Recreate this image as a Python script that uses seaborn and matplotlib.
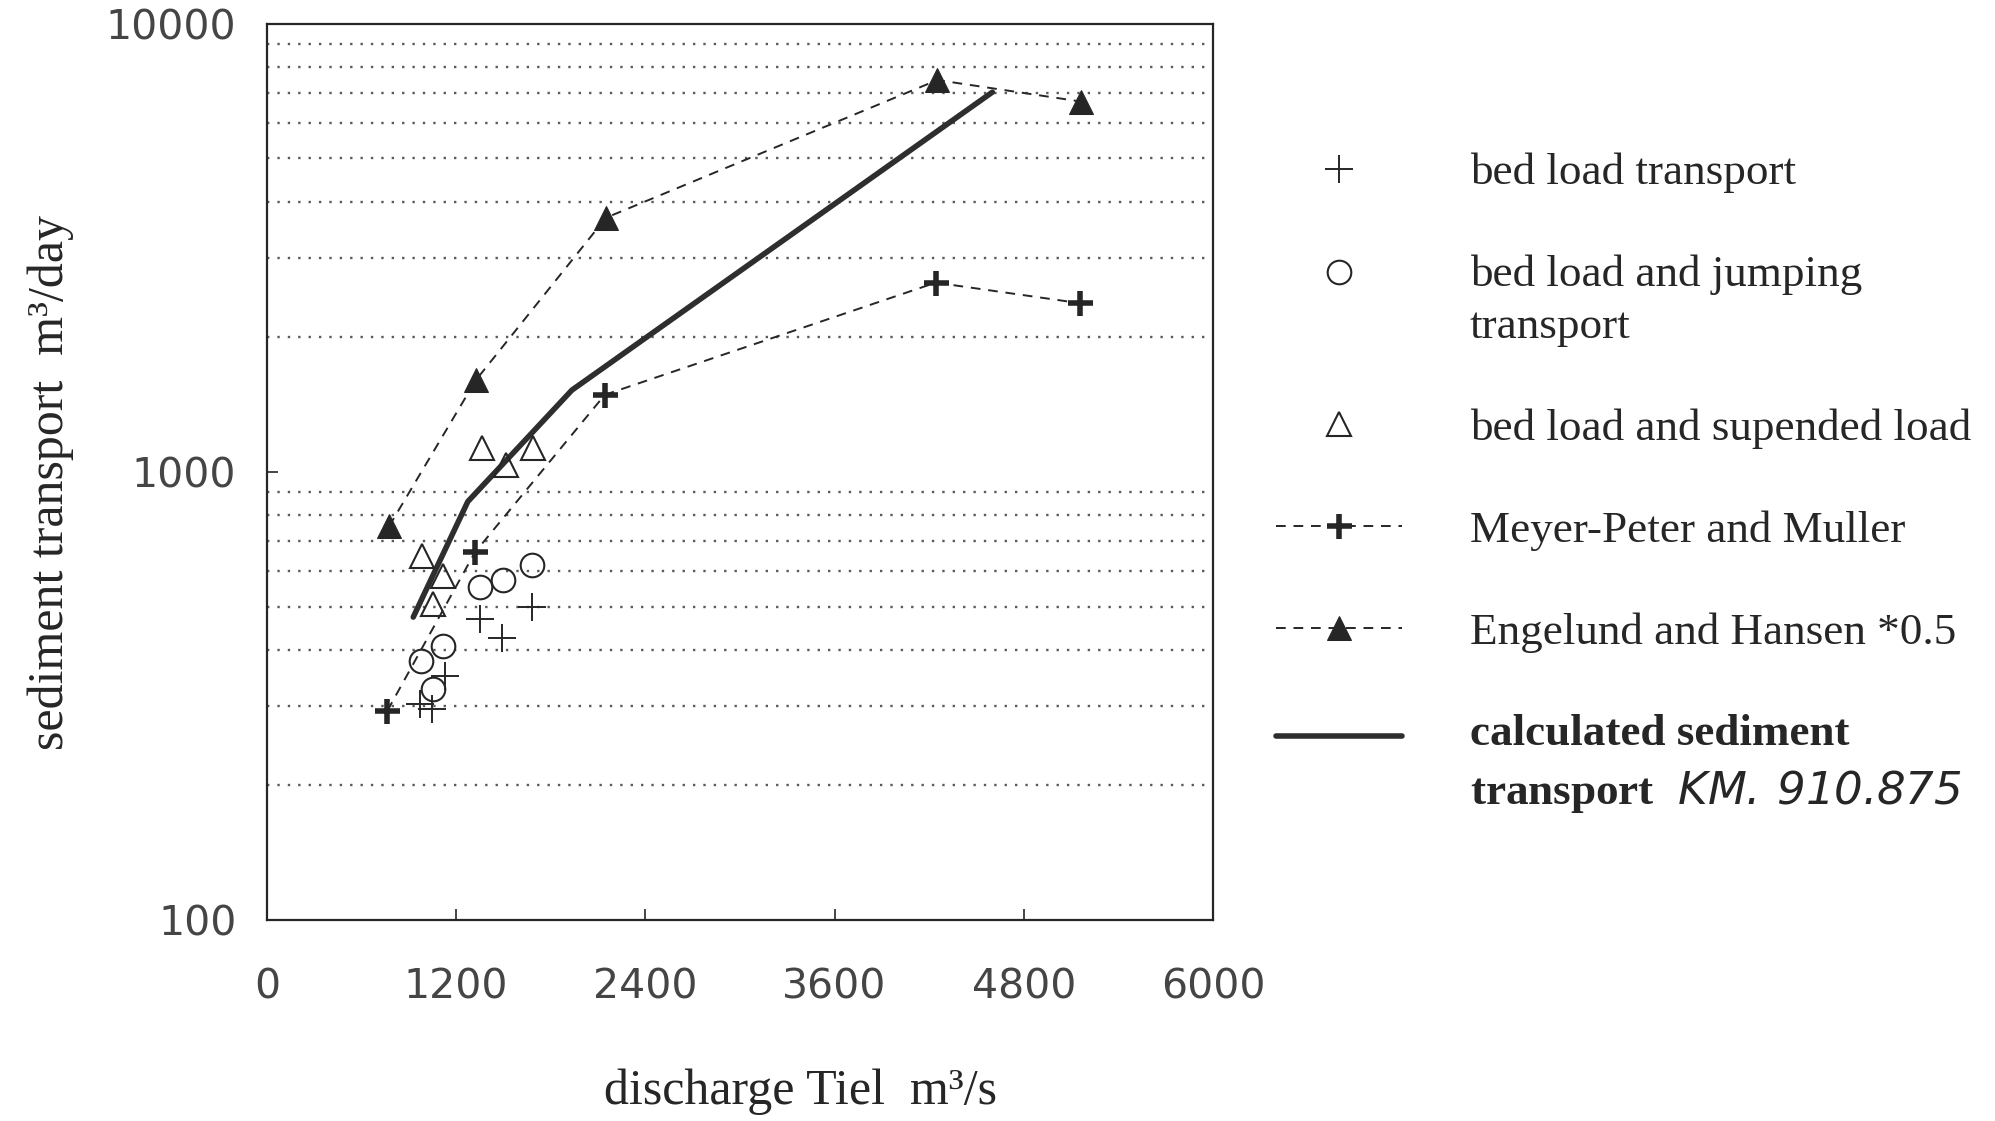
import numpy as np
import pandas as pd
import matplotlib
matplotlib.use("Agg")
import matplotlib.pyplot as plt
import seaborn as sns
from matplotlib.ticker import FixedLocator, FixedFormatter, LogLocator, NullFormatter

# Measured transport (discharge m3/s, transport m3/day)
bed_x = [1678, 1351, 1492, 1129, 970, 1048]
bed_y = [499, 469, 425, 350, 304, 295]

jump_x = [1682, 1498, 1351, 1118, 975, 1051]
jump_y = [621, 574, 554, 408, 378, 328]

susp_x = [1361, 1685, 1516, 981, 1118, 1055]
susp_y = [1128, 1128, 1038, 648, 585, 506]

# Formula results
mpm_x = [764, 1319, 2143, 4242, 5155]
mpm_y = [293, 661, 1485, 2642, 2378]

eh_x = [774, 1325, 2150, 4252, 5162]
eh_y = [755, 1601, 3687, 7480, 6699]

# Model result
calc_x = [928, 1274, 1934, 4601]
calc_y = [474, 858, 1521, 7030]

x_ticks = [0, 1200, 2400, 3600, 4800, 6000]
y_ticks = [100, 1000, 10000]

labels = [
    "bed load transport",
    "bed load and jumping\ntransport",
    "bed load and supended load",
    "Meyer-Peter and Muller",
    "Engelund and Hansen *0.5",
    "calculated sediment\ntransport$\\mathrm{\\;\\;KM.\\,910.875}$",
]

sns.set_theme(style="white")
plt.rcParams["font.family"] = ["Liberation Serif", "DejaVu Serif"]
# the station note is set slanted, in a plain sans face
plt.rcParams["mathtext.fontset"] = "custom"
plt.rcParams["mathtext.rm"] = "DejaVu Sans:italic"
plt.rcParams["mathtext.it"] = "DejaVu Sans:italic"

ink = "#262626"
fig = plt.figure(figsize=(19.95, 11.21), dpi=100)
ax = fig.add_axes([0.1338, 0.1793, 0.608 - 0.1338, 0.979 - 0.1793])

ax.set_yscale("log")
ax.set_xlim(0, 6000)
ax.set_ylim(100, 10000)

# dotted grid at the intermediate log values
ax.yaxis.set_minor_locator(LogLocator(base=10, subs=np.arange(2, 10)))
ax.yaxis.set_minor_formatter(NullFormatter())
ax.grid(False)
ax.grid(True, which="minor", axis="y", color="#5a5a5a",
        linestyle=(0, (1, 3.4)), linewidth=1.7)

dash = (0, (5, 4))

# line order: 0 E&H, 1 MPM, 2 calculated, 3 bed, 4 jumping, 5 suspended
sns.lineplot(x=eh_x, y=eh_y, ax=ax, estimator=None, sort=False, color=ink,
             linewidth=1.4, linestyle=dash, marker="^", markersize=17,
             markerfacecolor=ink, markeredgecolor=ink, legend=False)
sns.lineplot(x=mpm_x, y=mpm_y, ax=ax, estimator=None, sort=False, color=ink,
             linewidth=1.4, linestyle=dash, marker="+", markersize=18,
             markeredgewidth=4, markeredgecolor=ink, legend=False)
sns.lineplot(x=calc_x, y=calc_y, ax=ax, estimator=None, sort=False,
             color="#2e2e2e", linewidth=4, legend=False)

sns.lineplot(x=bed_x, y=bed_y, ax=ax, estimator=None, sort=False, color=ink,
             linestyle="", marker="+", markersize=20, markeredgewidth=1.4,
             markeredgecolor=ink, legend=False)
sns.lineplot(x=jump_x, y=jump_y, ax=ax, estimator=None, sort=False, color=ink,
             linestyle="", marker="o", markersize=17, markerfacecolor="none",
             markeredgewidth=1.5, markeredgecolor=ink, legend=False)
sns.lineplot(x=susp_x, y=susp_y, ax=ax, estimator=None, sort=False, color=ink,
             linestyle="", marker="^", markersize=17, markerfacecolor="none",
             markeredgewidth=1.5, markeredgecolor=ink, legend=False)

# axes frame and ticks
for sp in ax.spines.values():
    sp.set_color(ink)
    sp.set_linewidth(1.6)

ax.xaxis.set_major_locator(FixedLocator(x_ticks))
ax.xaxis.set_major_formatter(FixedFormatter([str(v) for v in x_ticks]))
ax.yaxis.set_major_locator(FixedLocator(y_ticks))
ax.yaxis.set_major_formatter(FixedFormatter([str(v) for v in y_ticks]))

ax.tick_params(axis="x", which="major", direction="in", length=8, width=1.2,
               color=ink, pad=34, bottom=True)
ax.tick_params(axis="y", which="major", direction="in", length=8, width=1.2,
               color=ink, pad=22, left=True)
ax.tick_params(axis="y", which="minor", length=0, left=False)
for t in ax.get_xticklabels() + ax.get_yticklabels():
    t.set_fontfamily("DejaVu Sans")
    t.set_fontsize(29.5)
    t.set_color("#454545")

fig.text(0.4015, 0.026, "discharge Tiel  m³/s", ha="center", va="center",
         fontsize=36, color=ink)
fig.text(0.0255, 0.57, "sediment transport  m³/day", ha="center",
         va="center", rotation=90, fontsize=36, color=ink)

# legend in the right margin
lines = ax.lines
handles = [lines[3], lines[4], lines[5], lines[1], lines[0], lines[2]]
leg = fig.legend(handles, labels, loc="upper left",
                 bbox_to_anchor=(0.619, 0.900), frameon=False, fontsize=32.5,
                 handlelength=2.8, handletextpad=1.5, labelspacing=1.36,
                 numpoints=1)
for t in leg.get_texts():
    t.set_color(ink)
    t.set_linespacing(1.38)
leg.get_texts()[5].set_fontweight("bold")

# two-line entries: symbol sits beside the first line of the label
for i in (1, 5):
    h = leg.legend_handles[i]
    h.set_ydata(np.asarray(h.get_ydata()) + 20.5)

fig.savefig("out.png", dpi=100, facecolor="white")
